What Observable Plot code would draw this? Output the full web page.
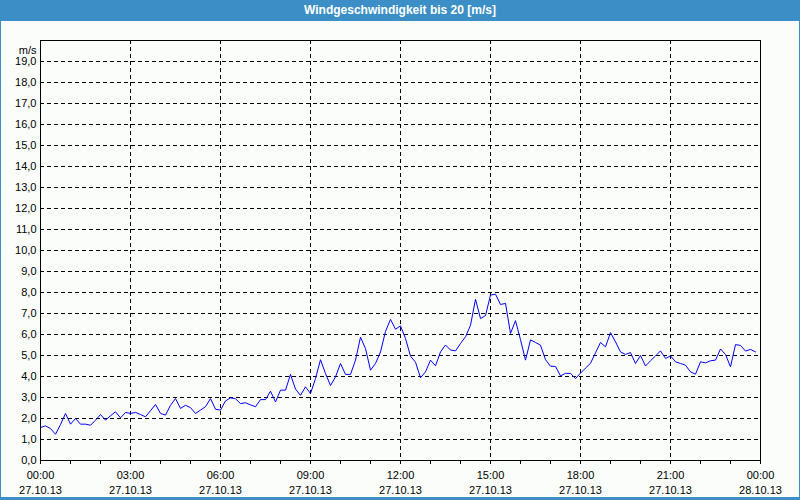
<!DOCTYPE html>
<html><head><meta charset="utf-8">
<script src="https://cdn.jsdelivr.net/npm/d3@7"></script>
<script src="https://cdn.jsdelivr.net/npm/@observablehq/plot@0.6"></script>
<style>
html,body{margin:0;padding:0;background:#fbfdfb;}
#wrap{position:relative;width:800px;height:500px;overflow:hidden;background:#fbfdfb;font-family:"Liberation Sans",Arial,sans-serif;}
#title{position:absolute;left:0;top:0;width:800px;height:21px;background:#3c8fc6;color:#fff;font-weight:bold;font-size:12px;line-height:21px;text-align:center;}
#chart{position:absolute;left:0;top:21px;}
#border{position:absolute;left:0;top:0;width:800px;height:500px;box-sizing:border-box;border:1px solid #3c8fc6;border-bottom-width:3px;pointer-events:none;}
</style></head>
<body><div id="wrap"><div id="title">Windgeschwindigkeit bis 20 [m/s]</div><div id="chart"></div><div id="border"></div></div>
<script>
const unitLabel = "m/s";
const startTime = "2013-10-27T00:00:00Z";
const stepMinutes = 10;
const windSpeed = [
  1.57,1.65,1.52,1.25,1.71,2.24,1.73,2.00,1.73,1.73,1.68,1.92,
  2.19,1.92,2.13,2.32,2.03,2.29,2.24,2.29,2.19,2.08,2.37,2.67,
  2.24,2.16,2.63,2.95,2.48,2.63,2.52,2.24,2.40,2.56,2.95,2.44,
  2.40,2.84,2.98,2.94,2.71,2.75,2.65,2.56,2.90,2.90,3.30,2.79,
  3.35,3.35,4.10,3.40,3.10,3.51,3.19,3.90,4.80,4.14,3.57,3.98,
  4.62,4.10,4.10,4.78,5.87,5.33,4.30,4.62,5.17,6.15,6.72,6.25,
  6.41,5.81,4.97,4.68,3.94,4.22,4.78,4.51,5.17,5.50,5.26,5.22,
  5.57,5.89,6.44,7.68,6.76,6.90,7.88,7.92,7.43,7.48,6.05,6.66,
  5.75,4.78,5.74,5.62,5.49,4.80,4.49,4.48,4.03,4.15,4.15,3.90,
  4.16,4.40,4.63,5.13,5.62,5.41,6.09,5.65,5.17,5.05,5.14,4.62,
  5.00,4.50,4.75,4.98,5.22,4.86,4.98,4.70,4.62,4.54,4.22,4.11,
  4.70,4.65,4.75,4.78,5.31,5.05,4.46,5.52,5.48,5.21,5.29,5.17
];
const yTicks = [0,1,2,3,4,5,6,7,8,9,10,11,12,13,14,15,16,17,18,19];
const yMax = 20;
const xTickHours = [0,1,2,3,4,5,6,7,8,9,10,11,12,13,14,15,16,17,18,19,20,21,22,23,24];
const xLabelHours = [0,3,6,9,12,15,18,21,24];
const timeLabels = ["00:00","03:00","06:00","09:00","12:00","15:00","18:00","21:00","00:00"];
const dateLabels = ["27.10.13","27.10.13","27.10.13","27.10.13","27.10.13","27.10.13","27.10.13","27.10.13","28.10.13"];

const t0 = new Date(startTime);
const H = 3600000;
const data = windSpeed.map((v, i) => ({t: new Date(+t0 + i * stepMinutes * 60000), v}));
const hourDate = h => new Date(+t0 + h * H);
const tickDates = xTickHours.map(hourDate);
const gridDates = xLabelHours.slice(1, -1).map(hourDate);

const chart = Plot.plot({
  width: 800, height: 479,
  marginTop: 19, marginBottom: 40, marginLeft: 40, marginRight: 40,
  style: {background: "transparent", fontFamily: "'Liberation Sans', Arial, sans-serif", fontSize: "11px", color: "black"},
  x: {type: "utc", domain: [hourDate(0), hourDate(24)]},
  y: {domain: [0, yMax]},
  marks: [
    Plot.gridY(yTicks.slice(1), {stroke: "black", strokeOpacity: 1, strokeDasharray: "4,3"}),
    Plot.gridX(gridDates, {stroke: "black", strokeOpacity: 1, strokeDasharray: "4,3"}),
    Plot.axisY(yTicks, {tickSize: 0, tickPadding: 4, label: null,
      tickFormat: d => d.toFixed(1).replace(".", ",")}),
    Plot.axisX(tickDates, {tickSize: 4, tickPadding: 4, label: null, lineHeight: 1.36,
      tickFormat: d => {
        const h = Math.round((d - t0) / H);
        const k = xLabelHours.indexOf(h);
        return k < 0 ? "" : timeLabels[k] + "\n" + dateLabels[k];
      }}),
    Plot.lineY(data, {x: "t", y: "v", stroke: "#0000ff", strokeWidth: 1}),
    Plot.frame({stroke: "black"}),
    Plot.text([unitLabel], {frameAnchor: "top-left", dx: -4, dy: 6, textAnchor: "end", text: d => d})
  ]
});
document.getElementById("chart").appendChild(chart);
</script>
</body></html>
